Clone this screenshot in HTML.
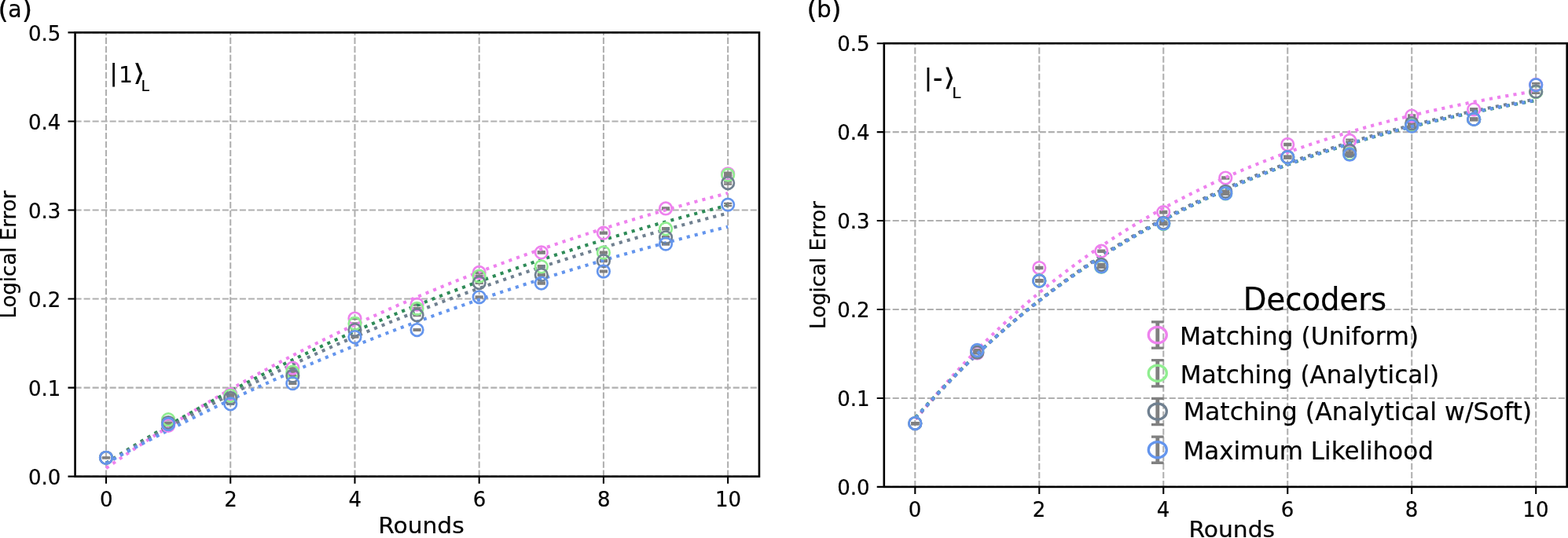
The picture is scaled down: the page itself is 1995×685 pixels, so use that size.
<!DOCTYPE html>
<html lang="en"><head><meta charset="utf-8"><title>Logical error vs rounds</title>
<style>html,body{margin:0;padding:0;background:#fff}body{width:1995px;height:685px;overflow:hidden}svg{display:block}text{font-family:'DejaVu Sans','Liberation Sans',sans-serif;fill:#000;stroke:#000;stroke-width:0.22px}</style>
</head><body>
<svg width="1995" height="685" viewBox="0 0 1995 685">
<rect width="1995" height="685" fill="#fff"/>
<g>
<g stroke="#b0b0b0" stroke-width="2.08" fill="none">
<path stroke-dasharray="8.09 2.925" stroke-dashoffset="0" d="M135 606.65V41.4M293.23 606.65V41.4M451.46 606.65V41.4M609.68 606.65V41.4M767.91 606.65V41.4M926.14 606.65V41.4"/>
<path stroke-dasharray="8.09 2.925" stroke-dashoffset="0" d="M95.57 606.65H965.95M95.57 493.6H965.95M95.57 380.55H965.95M95.57 267.5H965.95M95.57 154.45H965.95M95.57 41.4H965.95"/>
</g>
<g stroke="#808080" fill="none">
<path stroke-width="2.6" d="M135 582.65V582.95M214.11 541.36V542.16M293.23 501.69V502.69M372.34 467.9V469.1M451.46 404.93V406.13M530.57 386.87V388.47M609.68 346.07V347.87M688.8 320.32V322.52M767.91 295.77V297.57M847.03 264.37V266.57M926.14 219.71V222.81"/>
<path stroke-width="2.4" d="M129.9 582.65H140.1M129.9 582.95H140.1M209.01 541.36H219.21M209.01 542.16H219.21M288.13 501.69H298.33M288.13 502.69H298.33M367.24 467.9H377.44M367.24 469.1H377.44M446.36 404.93H456.56M446.36 406.13H456.56M525.47 386.87H535.67M525.47 388.47H535.67M604.58 346.07H614.78M604.58 347.87H614.78M683.7 320.32H693.9M683.7 322.52H693.9M762.81 295.77H773.01M762.81 297.57H773.01M841.93 264.37H852.13M841.93 266.57H852.13M921.04 219.71H931.24M921.04 222.81H931.24"/>
</g>
<path fill="none" stroke="#ee82ee" stroke-width="4.1" stroke-dasharray="4.1 6.223" d="M135 596.14L142.91 590.63L150.82 585.17L158.73 579.78L166.65 574.43L174.56 569.14L182.47 563.9L190.38 558.71L198.29 553.57L206.2 548.49L214.11 543.45L222.03 538.47L229.94 533.53L237.85 528.65L245.76 523.81L253.67 519.02L261.58 514.28L269.49 509.58L277.41 504.93L285.32 500.33L293.23 495.77L301.14 491.26L309.05 486.79L316.96 482.37L324.87 477.99L332.79 473.66L340.7 469.37L348.61 465.12L356.52 460.91L364.43 456.75L372.34 452.62L380.25 448.54L388.16 444.5L396.08 440.49L403.99 436.53L411.9 432.61L419.81 428.72L427.72 424.88L435.63 421.07L443.54 417.3L451.46 413.57L459.37 409.87L467.28 406.21L475.19 402.59L483.1 399.01L491.01 395.45L498.92 391.94L506.84 388.46L514.75 385.01L522.66 381.6L530.57 378.22L538.48 374.88L546.39 371.57L554.3 368.29L562.22 365.04L570.13 361.83L578.04 358.65L585.95 355.5L593.86 352.38L601.77 349.29L609.68 346.23L617.6 343.21L625.51 340.21L633.42 337.24L641.33 334.31L649.24 331.4L657.15 328.52L665.06 325.67L672.98 322.85L680.89 320.05L688.8 317.28L696.71 314.55L704.62 311.83L712.53 309.15L720.44 306.49L728.36 303.86L736.27 301.25L744.18 298.67L752.09 296.12L760 293.59L767.91 291.08L775.82 288.6L783.73 286.15L791.65 283.72L799.56 281.31L807.47 278.93L815.38 276.57L823.29 274.24L831.2 271.93L839.11 269.64L847.03 267.37L854.94 265.13L862.85 262.91L870.76 260.71L878.67 258.53L886.58 256.37L894.49 254.24L902.41 252.13L910.32 250.03L918.23 247.96L926.14 245.91"/>
<g stroke="#808080" fill="none">
<path stroke-width="2.6" d="M135 582.65V582.95M214.11 533.78V534.58M293.23 503.27V504.27M372.34 473.1V474.3M451.46 411.38V412.58M530.57 392.07V393.67M609.68 350.82V352.62M688.8 338.3V340.5M767.91 320.75V322.55M847.03 290.14V292.34M926.14 221.18V224.28"/>
<path stroke-width="2.4" d="M129.9 582.65H140.1M129.9 582.95H140.1M209.01 533.78H219.21M209.01 534.58H219.21M288.13 503.27H298.33M288.13 504.27H298.33M367.24 473.1H377.44M367.24 474.3H377.44M446.36 411.38H456.56M446.36 412.58H456.56M525.47 392.07H535.67M525.47 393.67H535.67M604.58 350.82H614.78M604.58 352.62H614.78M683.7 338.3H693.9M683.7 340.5H693.9M762.81 320.75H773.01M762.81 322.55H773.01M841.93 290.14H852.13M841.93 292.34H852.13M921.04 221.18H931.24M921.04 224.28H931.24"/>
</g>
<path fill="none" stroke="#2e8b57" stroke-width="4.1" stroke-dasharray="4.1 6.227" d="M135 589.58L142.91 584.6L150.82 579.66L158.73 574.77L166.65 569.92L174.56 565.11L182.47 560.35L190.38 555.64L198.29 550.96L206.2 546.33L214.11 541.74L222.03 537.19L229.94 532.69L237.85 528.22L245.76 523.79L253.67 519.41L261.58 515.06L269.49 510.76L277.41 506.49L285.32 502.26L293.23 498.08L301.14 493.92L309.05 489.81L316.96 485.73L324.87 481.7L332.79 477.69L340.7 473.73L348.61 469.8L356.52 465.9L364.43 462.04L372.34 458.22L380.25 454.43L388.16 450.68L396.08 446.96L403.99 443.27L411.9 439.62L419.81 436L427.72 432.41L435.63 428.86L443.54 425.34L451.46 421.85L459.37 418.39L467.28 414.96L475.19 411.56L483.1 408.2L491.01 404.87L498.92 401.56L506.84 398.29L514.75 395.04L522.66 391.83L530.57 388.64L538.48 385.49L546.39 382.36L554.3 379.26L562.22 376.19L570.13 373.15L578.04 370.13L585.95 367.14L593.86 364.18L601.77 361.25L609.68 358.34L617.6 355.46L625.51 352.6L633.42 349.78L641.33 346.97L649.24 344.19L657.15 341.44L665.06 338.71L672.98 336.01L680.89 333.33L688.8 330.68L696.71 328.05L704.62 325.45L712.53 322.86L720.44 320.3L728.36 317.77L736.27 315.26L744.18 312.77L752.09 310.3L760 307.86L767.91 305.43L775.82 303.03L783.73 300.66L791.65 298.3L799.56 295.96L807.47 293.65L815.38 291.36L823.29 289.09L831.2 286.83L839.11 284.6L847.03 282.39L854.94 280.2L862.85 278.03L870.76 275.88L878.67 273.75L886.58 271.64L894.49 269.54L902.41 267.47L910.32 265.42L918.23 263.38L926.14 261.36"/>
<g stroke="#808080" fill="none">
<path stroke-width="2.6" d="M135 582.65V582.95M214.11 537.63V538.43M293.23 506.44V507.44M372.34 477.96V479.16M451.46 419.4V420.6M530.57 400.44V402.04M609.68 359.07V360.87M688.8 348.81V351.01M767.91 331.26V333.06M847.03 301.22V303.42M926.14 231.47V234.57"/>
<path stroke-width="2.4" d="M129.9 582.65H140.1M129.9 582.95H140.1M209.01 537.63H219.21M209.01 538.43H219.21M288.13 506.44H298.33M288.13 507.44H298.33M367.24 477.96H377.44M367.24 479.16H377.44M446.36 419.4H456.56M446.36 420.6H456.56M525.47 400.44H535.67M525.47 402.04H535.67M604.58 359.07H614.78M604.58 360.87H614.78M683.7 348.81H693.9M683.7 351.01H693.9M762.81 331.26H773.01M762.81 333.06H773.01M841.93 301.22H852.13M841.93 303.42H852.13M921.04 231.47H931.24M921.04 234.57H931.24"/>
</g>
<path fill="none" stroke="#708090" stroke-width="4.1" stroke-dasharray="4.1 6.227" d="M135 589.92L142.91 585.17L150.82 580.47L158.73 575.81L166.65 571.18L174.56 566.6L182.47 562.06L190.38 557.55L198.29 553.09L206.2 548.66L214.11 544.27L222.03 539.92L229.94 535.61L237.85 531.33L245.76 527.09L253.67 522.89L261.58 518.73L269.49 514.6L277.41 510.5L285.32 506.45L293.23 502.42L301.14 498.43L309.05 494.48L316.96 490.56L324.87 486.67L332.79 482.82L340.7 479L348.61 475.22L356.52 471.46L364.43 467.74L372.34 464.06L380.25 460.4L388.16 456.77L396.08 453.18L403.99 449.62L411.9 446.09L419.81 442.59L427.72 439.12L435.63 435.67L443.54 432.26L451.46 428.88L459.37 425.53L467.28 422.21L475.19 418.91L483.1 415.65L491.01 412.41L498.92 409.2L506.84 406.02L514.75 402.86L522.66 399.74L530.57 396.64L538.48 393.56L546.39 390.52L554.3 387.5L562.22 384.5L570.13 381.53L578.04 378.59L585.95 375.67L593.86 372.78L601.77 369.92L609.68 367.07L617.6 364.26L625.51 361.46L633.42 358.69L641.33 355.95L649.24 353.23L657.15 350.53L665.06 347.86L672.98 345.2L680.89 342.58L688.8 339.97L696.71 337.39L704.62 334.83L712.53 332.29L720.44 329.77L728.36 327.28L736.27 324.8L744.18 322.35L752.09 319.92L760 317.51L767.91 315.12L775.82 312.76L783.73 310.41L791.65 308.08L799.56 305.77L807.47 303.49L815.38 301.22L823.29 298.97L831.2 296.74L839.11 294.53L847.03 292.34L854.94 290.17L862.85 288.02L870.76 285.89L878.67 283.77L886.58 281.68L894.49 279.6L902.41 277.54L910.32 275.49L918.23 273.47L926.14 271.46"/>
<g stroke="#808080" fill="none">
<path stroke-width="2.6" d="M135 582.65V582.95M214.11 539.55V540.35M293.23 513.79V514.79M372.34 487.57V488.77M451.46 428.45V429.65M530.57 419.2V420.8M609.68 377.39V379.19M688.8 359.44V361.64M767.91 344.6V346.4M847.03 309.47V311.67M926.14 259.05V262.15"/>
<path stroke-width="2.4" d="M129.9 582.65H140.1M129.9 582.95H140.1M209.01 539.55H219.21M209.01 540.35H219.21M288.13 513.79H298.33M288.13 514.79H298.33M367.24 487.57H377.44M367.24 488.77H377.44M446.36 428.45H456.56M446.36 429.65H456.56M525.47 419.2H535.67M525.47 420.8H535.67M604.58 377.39H614.78M604.58 379.19H614.78M683.7 359.44H693.9M683.7 361.64H693.9M762.81 344.6H773.01M762.81 346.4H773.01M841.93 309.47H852.13M841.93 311.67H852.13M921.04 259.05H931.24M921.04 262.15H931.24"/>
</g>
<path fill="none" stroke="#6495ed" stroke-width="4.1" stroke-dasharray="4.1 6.224" d="M135 589.92L142.91 585.57L150.82 581.25L158.73 576.96L166.65 572.71L174.56 568.49L182.47 564.31L190.38 560.16L198.29 556.04L206.2 551.96L214.11 547.91L222.03 543.89L229.94 539.9L237.85 535.94L245.76 532.02L253.67 528.12L261.58 524.26L269.49 520.43L277.41 516.63L285.32 512.86L293.23 509.11L301.14 505.4L309.05 501.72L316.96 498.07L324.87 494.44L332.79 490.85L340.7 487.28L348.61 483.74L356.52 480.23L364.43 476.75L372.34 473.29L380.25 469.86L388.16 466.46L396.08 463.09L403.99 459.74L411.9 456.42L419.81 453.13L427.72 449.86L435.63 446.62L443.54 443.4L451.46 440.21L459.37 437.05L467.28 433.91L475.19 430.79L483.1 427.7L491.01 424.64L498.92 421.59L506.84 418.58L514.75 415.58L522.66 412.61L530.57 409.67L538.48 406.75L546.39 403.85L554.3 400.97L562.22 398.12L570.13 395.28L578.04 392.48L585.95 389.69L593.86 386.93L601.77 384.18L609.68 381.46L617.6 378.76L625.51 376.09L633.42 373.43L641.33 370.79L649.24 368.18L657.15 365.59L665.06 363.01L672.98 360.46L680.89 357.93L688.8 355.42L696.71 352.92L704.62 350.45L712.53 348L720.44 345.57L728.36 343.15L736.27 340.76L744.18 338.38L752.09 336.02L760 333.69L767.91 331.37L775.82 329.07L783.73 326.78L791.65 324.52L799.56 322.27L807.47 320.04L815.38 317.83L823.29 315.64L831.2 313.46L839.11 311.3L847.03 309.16L854.94 307.03L862.85 304.92L870.76 302.83L878.67 300.76L886.58 298.7L894.49 296.66L902.41 294.63L910.32 292.62L918.23 290.63L926.14 288.65"/>
<g stroke="#ee82ee" stroke-width="2.65" fill="none">
<circle cx="135" cy="582.8" r="7.8"/>
<circle cx="214.11" cy="541.76" r="7.8"/>
<circle cx="293.23" cy="502.19" r="7.8"/>
<circle cx="372.34" cy="468.5" r="7.8"/>
<circle cx="451.46" cy="405.53" r="7.8"/>
<circle cx="530.57" cy="387.67" r="7.8"/>
<circle cx="609.68" cy="346.97" r="7.8"/>
<circle cx="688.8" cy="321.42" r="7.8"/>
<circle cx="767.91" cy="296.67" r="7.8"/>
<circle cx="847.03" cy="265.47" r="7.8"/>
<circle cx="926.14" cy="221.26" r="7.8"/>
</g>
<g stroke="#90ee90" stroke-width="2.65" fill="none">
<circle cx="135" cy="582.8" r="7.8"/>
<circle cx="214.11" cy="534.18" r="7.8"/>
<circle cx="293.23" cy="503.77" r="7.8"/>
<circle cx="372.34" cy="473.7" r="7.8"/>
<circle cx="451.46" cy="411.98" r="7.8"/>
<circle cx="530.57" cy="392.87" r="7.8"/>
<circle cx="609.68" cy="351.72" r="7.8"/>
<circle cx="688.8" cy="339.4" r="7.8"/>
<circle cx="767.91" cy="321.65" r="7.8"/>
<circle cx="847.03" cy="291.24" r="7.8"/>
<circle cx="926.14" cy="222.73" r="7.8"/>
</g>
<g stroke="#708090" stroke-width="2.65" fill="none">
<circle cx="135" cy="582.8" r="7.8"/>
<circle cx="214.11" cy="538.03" r="7.8"/>
<circle cx="293.23" cy="506.94" r="7.8"/>
<circle cx="372.34" cy="478.56" r="7.8"/>
<circle cx="451.46" cy="420" r="7.8"/>
<circle cx="530.57" cy="401.24" r="7.8"/>
<circle cx="609.68" cy="359.97" r="7.8"/>
<circle cx="688.8" cy="349.91" r="7.8"/>
<circle cx="767.91" cy="332.16" r="7.8"/>
<circle cx="847.03" cy="302.32" r="7.8"/>
<circle cx="926.14" cy="233.02" r="7.8"/>
</g>
<g stroke="#6495ed" stroke-width="2.65" fill="none">
<circle cx="135" cy="582.8" r="7.8"/>
<circle cx="214.11" cy="539.95" r="7.8"/>
<circle cx="293.23" cy="514.29" r="7.8"/>
<circle cx="372.34" cy="488.17" r="7.8"/>
<circle cx="451.46" cy="429.05" r="7.8"/>
<circle cx="530.57" cy="420" r="7.8"/>
<circle cx="609.68" cy="378.29" r="7.8"/>
<circle cx="688.8" cy="360.54" r="7.8"/>
<circle cx="767.91" cy="345.5" r="7.8"/>
<circle cx="847.03" cy="310.57" r="7.8"/>
<circle cx="926.14" cy="260.6" r="7.8"/>
</g>
<rect x="95.57" y="41.4" width="870.38" height="565.25" fill="none" stroke="#000" stroke-width="2.6"/>
<path d="M135 606.65v9.09M293.23 606.65v9.09M451.46 606.65v9.09M609.68 606.65v9.09M767.91 606.65v9.09M926.14 606.65v9.09M95.57 606.65h-9.09M95.57 493.6h-9.09M95.57 380.55h-9.09M95.57 267.5h-9.09M95.57 154.45h-9.09M95.57 41.4h-9.09" stroke="#000" stroke-width="2.08" fill="none"/>
<g font-size="26" text-anchor="middle">
<text x="135.35" y="644.65">0</text>
<text x="293.58" y="644.65">2</text>
<text x="451.81" y="644.65">4</text>
<text x="610.03" y="644.65">6</text>
<text x="768.26" y="644.65">8</text>
<text x="926.49" y="644.65">10</text>
</g>
<g font-size="26" text-anchor="end">
<text x="77.37" y="617.3">0.0</text>
<text x="77.37" y="504.25">0.1</text>
<text x="77.37" y="391.2">0.2</text>
<text x="77.37" y="278.15">0.3</text>
<text x="77.37" y="165.1">0.4</text>
<text x="77.37" y="52.05">0.5</text>
</g>
</g>
<g>
<g stroke="#b0b0b0" stroke-width="2.08" fill="none">
<path stroke-dasharray="8.09 2.937" stroke-dashoffset="0.1" d="M1164.3 619.9V55.2M1322.28 619.9V55.2M1480.26 619.9V55.2M1638.24 619.9V55.2M1796.22 619.9V55.2M1954.2 619.9V55.2"/>
<path stroke-dasharray="8.09 2.911" stroke-dashoffset="0.1" d="M1124.8 619.9H1993.7M1124.8 506.96H1993.7M1124.8 394.02H1993.7M1124.8 281.08H1993.7M1124.8 168.14H1993.7M1124.8 55.2H1993.7"/>
</g>
<g stroke="#808080" fill="none">
<path stroke-width="2.6" d="M1164.3 538.13V539.93M1243.29 448.57V450.37M1322.28 340.05V342.05M1401.27 318.71V320.71M1480.26 269.02V271.22M1559.25 225.43V227.63M1638.24 182.85V185.05M1717.23 177.58V180.38M1796.22 146.38V148.78M1875.21 138.24V140.44M1954.2 105.93V109.73"/>
<path stroke-width="2.4" d="M1159.2 538.13H1169.4M1159.2 539.93H1169.4M1238.19 448.57H1248.39M1238.19 450.37H1248.39M1317.18 340.05H1327.38M1317.18 342.05H1327.38M1396.17 318.71H1406.37M1396.17 320.71H1406.37M1475.16 269.02H1485.36M1475.16 271.22H1485.36M1554.15 225.43H1564.35M1554.15 227.63H1564.35M1633.14 182.85H1643.34M1633.14 185.05H1643.34M1712.13 177.58H1722.33M1712.13 180.38H1722.33M1791.12 146.38H1801.32M1791.12 148.78H1801.32M1870.11 138.24H1880.31M1870.11 140.44H1880.31M1949.1 105.93H1959.3M1949.1 109.73H1959.3"/>
</g>
<path fill="none" stroke="#ee82ee" stroke-width="4.1" stroke-dasharray="4.1 6.217" d="M1165.1 533.93L1172.99 524.16L1180.88 514.58L1188.77 505.2L1196.66 496.02L1204.55 487.02L1212.45 478.2L1220.34 469.56L1228.23 461.1L1236.12 452.82L1244.01 444.7L1251.9 436.74L1259.79 428.95L1267.68 421.32L1275.57 413.84L1283.46 406.52L1291.36 399.35L1299.25 392.32L1307.14 385.43L1315.03 378.69L1322.92 372.08L1330.81 365.61L1338.7 359.27L1346.59 353.06L1354.48 346.98L1362.38 341.02L1370.27 335.18L1378.16 329.46L1386.05 323.86L1393.94 318.37L1401.83 313L1409.72 307.73L1417.61 302.57L1425.5 297.52L1433.39 292.57L1441.28 287.72L1449.18 282.97L1457.07 278.31L1464.96 273.75L1472.85 269.29L1480.74 264.91L1488.63 260.63L1496.52 256.43L1504.41 252.32L1512.3 248.29L1520.19 244.34L1528.09 240.48L1535.98 236.69L1543.87 232.98L1551.76 229.35L1559.65 225.79L1567.54 222.3L1575.43 218.88L1583.32 215.54L1591.21 212.26L1599.11 209.05L1607 205.9L1614.89 202.82L1622.78 199.8L1630.67 196.85L1638.56 193.95L1646.45 191.11L1654.34 188.33L1662.23 185.61L1670.12 182.94L1678.02 180.33L1685.91 177.77L1693.8 175.26L1701.69 172.8L1709.58 170.4L1717.47 168.04L1725.36 165.73L1733.25 163.47L1741.14 161.25L1749.03 159.08L1756.92 156.96L1764.82 154.87L1772.71 152.83L1780.6 150.83L1788.49 148.88L1796.38 146.96L1804.27 145.08L1812.16 143.24L1820.05 141.43L1827.94 139.67L1835.83 137.94L1843.73 136.24L1851.62 134.58L1859.51 132.96L1867.4 131.36L1875.29 129.8L1883.18 128.27L1891.07 126.77L1898.96 125.31L1906.85 123.87L1914.75 122.46L1922.64 121.08L1930.53 119.73L1938.42 118.41L1946.31 117.11L1954.2 115.84"/>
<g stroke="#808080" fill="none">
<path stroke-width="2.6" d="M1164.3 538.13V539.93M1243.29 447.33V449.13M1322.28 356.2V358.2M1401.27 338.92V340.92M1480.26 283.93V286.13M1559.25 245.31V247.51M1638.24 199.23V201.43M1717.23 194.18V196.98M1796.22 158.13V160.53M1875.21 150.78V152.98M1954.2 115.08V118.88"/>
<path stroke-width="2.4" d="M1159.2 538.13H1169.4M1159.2 539.93H1169.4M1238.19 447.33H1248.39M1238.19 449.13H1248.39M1317.18 356.2H1327.38M1317.18 358.2H1327.38M1396.17 338.92H1406.37M1396.17 340.92H1406.37M1475.16 283.93H1485.36M1475.16 286.13H1485.36M1554.15 245.31H1564.35M1554.15 247.51H1564.35M1633.14 199.23H1643.34M1633.14 201.43H1643.34M1712.13 194.18H1722.33M1712.13 196.98H1722.33M1791.12 158.13H1801.32M1791.12 160.53H1801.32M1870.11 150.78H1880.31M1870.11 152.98H1880.31M1949.1 115.08H1959.3M1949.1 118.88H1959.3"/>
</g>
<path fill="none" stroke="#2e8b57" stroke-width="4.1" stroke-dasharray="4.1 6.222" d="M1165.1 531.34L1172.99 522.5L1180.88 513.82L1188.77 505.3L1196.66 496.94L1204.55 488.73L1212.45 480.68L1220.34 472.78L1228.23 465.02L1236.12 457.41L1244.01 449.93L1251.9 442.6L1259.79 435.4L1267.68 428.34L1275.57 421.41L1283.46 414.6L1291.36 407.93L1299.25 401.37L1307.14 394.94L1315.03 388.63L1322.92 382.43L1330.81 376.35L1338.7 370.38L1346.59 364.53L1354.48 358.78L1362.38 353.14L1370.27 347.6L1378.16 342.17L1386.05 336.84L1393.94 331.6L1401.83 326.46L1409.72 321.42L1417.61 316.47L1425.5 311.62L1433.39 306.85L1441.28 302.18L1449.18 297.58L1457.07 293.08L1464.96 288.66L1472.85 284.32L1480.74 280.06L1488.63 275.88L1496.52 271.78L1504.41 267.75L1512.3 263.8L1520.19 259.92L1528.09 256.11L1535.98 252.38L1543.87 248.71L1551.76 245.11L1559.65 241.58L1567.54 238.11L1575.43 234.71L1583.32 231.37L1591.21 228.1L1599.11 224.88L1607 221.73L1614.89 218.63L1622.78 215.59L1630.67 212.61L1638.56 209.68L1646.45 206.8L1654.34 203.98L1662.23 201.22L1670.12 198.5L1678.02 195.83L1685.91 193.22L1693.8 190.65L1701.69 188.13L1709.58 185.65L1717.47 183.22L1725.36 180.84L1733.25 178.5L1741.14 176.21L1749.03 173.96L1756.92 171.74L1764.82 169.58L1772.71 167.45L1780.6 165.36L1788.49 163.3L1796.38 161.29L1804.27 159.32L1812.16 157.38L1820.05 155.47L1827.94 153.61L1835.83 151.77L1843.73 149.97L1851.62 148.21L1859.51 146.48L1867.4 144.77L1875.29 143.11L1883.18 141.47L1891.07 139.86L1898.96 138.28L1906.85 136.73L1914.75 135.21L1922.64 133.72L1930.53 132.26L1938.42 130.82L1946.31 129.41L1954.2 128.03"/>
<g stroke="#808080" fill="none">
<path stroke-width="2.6" d="M1164.3 538.13V539.93M1243.29 447.78V449.58M1322.28 356.65V358.65M1401.27 335.99V337.99M1480.26 282.69V284.89M1559.25 242.71V244.91M1638.24 198.78V200.98M1717.23 190.57V193.37M1796.22 155.87V158.27M1875.21 150.78V152.98M1954.2 114.74V118.54"/>
<path stroke-width="2.4" d="M1159.2 538.13H1169.4M1159.2 539.93H1169.4M1238.19 447.78H1248.39M1238.19 449.58H1248.39M1317.18 356.65H1327.38M1317.18 358.65H1327.38M1396.17 335.99H1406.37M1396.17 337.99H1406.37M1475.16 282.69H1485.36M1475.16 284.89H1485.36M1554.15 242.71H1564.35M1554.15 244.91H1564.35M1633.14 198.78H1643.34M1633.14 200.98H1643.34M1712.13 190.57H1722.33M1712.13 193.37H1722.33M1791.12 155.87H1801.32M1791.12 158.27H1801.32M1870.11 150.78H1880.31M1870.11 152.98H1880.31M1949.1 114.74H1959.3M1949.1 118.54H1959.3"/>
</g>
<path fill="none" stroke="#708090" stroke-width="4.1" stroke-dasharray="4.1 6.203" d="M1165.1 532.93L1172.99 523.93L1180.88 515.1L1188.77 506.44L1196.66 497.94L1204.55 489.6L1212.45 481.41L1220.34 473.38L1228.23 465.51L1236.12 457.78L1244.01 450.19L1251.9 442.75L1259.79 435.45L1267.68 428.29L1275.57 421.26L1283.46 414.36L1291.36 407.6L1299.25 400.96L1307.14 394.44L1315.03 388.05L1322.92 381.78L1330.81 375.63L1338.7 369.59L1346.59 363.66L1354.48 357.85L1362.38 352.15L1370.27 346.55L1378.16 341.06L1386.05 335.68L1393.94 330.39L1401.83 325.2L1409.72 320.12L1417.61 315.12L1425.5 310.22L1433.39 305.42L1441.28 300.7L1449.18 296.07L1457.07 291.53L1464.96 287.08L1472.85 282.71L1480.74 278.42L1488.63 274.21L1496.52 270.08L1504.41 266.03L1512.3 262.06L1520.19 258.16L1528.09 254.33L1535.98 250.58L1543.87 246.89L1551.76 243.28L1559.65 239.73L1567.54 236.25L1575.43 232.84L1583.32 229.49L1591.21 226.2L1599.11 222.97L1607 219.81L1614.89 216.7L1622.78 213.66L1630.67 210.67L1638.56 207.74L1646.45 204.86L1654.34 202.04L1662.23 199.27L1670.12 196.55L1678.02 193.88L1685.91 191.26L1693.8 188.7L1701.69 186.18L1709.58 183.7L1717.47 181.28L1725.36 178.9L1733.25 176.56L1741.14 174.27L1749.03 172.03L1756.92 169.82L1764.82 167.66L1772.71 165.53L1780.6 163.45L1788.49 161.41L1796.38 159.4L1804.27 157.43L1812.16 155.5L1820.05 153.61L1827.94 151.75L1835.83 149.93L1843.73 148.14L1851.62 146.38L1859.51 144.66L1867.4 142.97L1875.29 141.31L1883.18 139.68L1891.07 138.08L1898.96 136.52L1906.85 134.98L1914.75 133.47L1922.64 131.99L1930.53 130.54L1938.42 129.12L1946.31 127.72L1954.2 126.35"/>
<g stroke="#808080" fill="none">
<path stroke-width="2.6" d="M1164.3 538.13V539.93M1243.29 445.07V446.87M1322.28 356.65V358.65M1401.27 338.47V340.47M1480.26 283.59V285.79M1559.25 245.08V247.28M1638.24 199V201.2M1717.23 195.31V198.11M1796.22 159.37V161.77M1875.21 150.78V152.98M1954.2 106.27V110.07"/>
<path stroke-width="2.4" d="M1159.2 538.13H1169.4M1159.2 539.93H1169.4M1238.19 445.07H1248.39M1238.19 446.87H1248.39M1317.18 356.65H1327.38M1317.18 358.65H1327.38M1396.17 338.47H1406.37M1396.17 340.47H1406.37M1475.16 283.59H1485.36M1475.16 285.79H1485.36M1554.15 245.08H1564.35M1554.15 247.28H1564.35M1633.14 199H1643.34M1633.14 201.2H1643.34M1712.13 195.31H1722.33M1712.13 198.11H1722.33M1791.12 159.37H1801.32M1791.12 161.77H1801.32M1870.11 150.78H1880.31M1870.11 152.98H1880.31M1949.1 106.27H1959.3M1949.1 110.07H1959.3"/>
</g>
<path fill="none" stroke="#6495ed" stroke-width="4.1" stroke-dasharray="4.1 6.218" d="M1165.1 532L1172.99 523.11L1180.88 514.39L1188.77 505.84L1196.66 497.44L1204.55 489.2L1212.45 481.11L1220.34 473.17L1228.23 465.38L1236.12 457.74L1244.01 450.23L1251.9 442.87L1259.79 435.65L1267.68 428.55L1275.57 421.6L1283.46 414.77L1291.36 408.06L1299.25 401.49L1307.14 395.03L1315.03 388.7L1322.92 382.48L1330.81 376.38L1338.7 370.39L1346.59 364.52L1354.48 358.75L1362.38 353.09L1370.27 347.54L1378.16 342.09L1386.05 336.74L1393.94 331.49L1401.83 326.34L1409.72 321.28L1417.61 316.32L1425.5 311.45L1433.39 306.67L1441.28 301.98L1449.18 297.38L1457.07 292.86L1464.96 288.43L1472.85 284.08L1480.74 279.81L1488.63 275.62L1496.52 271.51L1504.41 267.48L1512.3 263.52L1520.19 259.63L1528.09 255.82L1535.98 252.08L1543.87 248.41L1551.76 244.8L1559.65 241.26L1567.54 237.79L1575.43 234.39L1583.32 231.04L1591.21 227.76L1599.11 224.54L1607 221.38L1614.89 218.28L1622.78 215.24L1630.67 212.25L1638.56 209.32L1646.45 206.44L1654.34 203.62L1662.23 200.85L1670.12 198.13L1678.02 195.46L1685.91 192.84L1693.8 190.27L1701.69 187.75L1709.58 185.28L1717.47 182.85L1725.36 180.47L1733.25 178.13L1741.14 175.83L1749.03 173.58L1756.92 171.37L1764.82 169.2L1772.71 167.07L1780.6 164.98L1788.49 162.93L1796.38 160.92L1804.27 158.94L1812.16 157L1820.05 155.1L1827.94 153.23L1835.83 151.4L1843.73 149.6L1851.62 147.84L1859.51 146.11L1867.4 144.41L1875.29 142.74L1883.18 141.1L1891.07 139.5L1898.96 137.92L1906.85 136.37L1914.75 134.86L1922.64 133.37L1930.53 131.9L1938.42 130.47L1946.31 129.06L1954.2 127.68"/>
<g stroke="#ee82ee" stroke-width="2.65" fill="none">
<circle cx="1164.3" cy="539.03" r="7.8"/>
<circle cx="1243.29" cy="449.47" r="7.8"/>
<circle cx="1322.28" cy="341.05" r="7.8"/>
<circle cx="1401.27" cy="319.71" r="7.8"/>
<circle cx="1480.26" cy="270.12" r="7.8"/>
<circle cx="1559.25" cy="226.53" r="7.8"/>
<circle cx="1638.24" cy="183.95" r="7.8"/>
<circle cx="1717.23" cy="178.98" r="7.8"/>
<circle cx="1796.22" cy="147.58" r="7.8"/>
<circle cx="1875.21" cy="139.34" r="7.8"/>
<circle cx="1954.2" cy="107.83" r="7.8"/>
</g>
<g stroke="#90ee90" stroke-width="2.65" fill="none">
<circle cx="1164.3" cy="539.03" r="7.8"/>
<circle cx="1243.29" cy="448.23" r="7.8"/>
<circle cx="1322.28" cy="357.2" r="7.8"/>
<circle cx="1401.27" cy="339.92" r="7.8"/>
<circle cx="1480.26" cy="285.03" r="7.8"/>
<circle cx="1559.25" cy="246.41" r="7.8"/>
<circle cx="1638.24" cy="200.33" r="7.8"/>
<circle cx="1717.23" cy="195.58" r="7.8"/>
<circle cx="1796.22" cy="159.33" r="7.8"/>
<circle cx="1875.21" cy="151.88" r="7.8"/>
<circle cx="1954.2" cy="116.98" r="7.8"/>
</g>
<g stroke="#708090" stroke-width="2.65" fill="none">
<circle cx="1164.3" cy="539.03" r="7.8"/>
<circle cx="1243.29" cy="448.68" r="7.8"/>
<circle cx="1322.28" cy="357.65" r="7.8"/>
<circle cx="1401.27" cy="336.99" r="7.8"/>
<circle cx="1480.26" cy="283.79" r="7.8"/>
<circle cx="1559.25" cy="243.81" r="7.8"/>
<circle cx="1638.24" cy="199.88" r="7.8"/>
<circle cx="1717.23" cy="191.97" r="7.8"/>
<circle cx="1796.22" cy="157.07" r="7.8"/>
<circle cx="1875.21" cy="151.88" r="7.8"/>
<circle cx="1954.2" cy="116.64" r="7.8"/>
</g>
<g stroke="#6495ed" stroke-width="2.65" fill="none">
<circle cx="1164.3" cy="539.03" r="7.8"/>
<circle cx="1243.29" cy="445.97" r="7.8"/>
<circle cx="1322.28" cy="357.65" r="7.8"/>
<circle cx="1401.27" cy="339.47" r="7.8"/>
<circle cx="1480.26" cy="284.69" r="7.8"/>
<circle cx="1559.25" cy="246.18" r="7.8"/>
<circle cx="1638.24" cy="200.1" r="7.8"/>
<circle cx="1717.23" cy="196.71" r="7.8"/>
<circle cx="1796.22" cy="160.57" r="7.8"/>
<circle cx="1875.21" cy="151.88" r="7.8"/>
<circle cx="1954.2" cy="108.17" r="7.8"/>
</g>
<rect x="1124.8" y="55.2" width="868.9" height="564.7" fill="none" stroke="#000" stroke-width="2.6"/>
<path d="M1164.3 619.9v9.09M1322.28 619.9v9.09M1480.26 619.9v9.09M1638.24 619.9v9.09M1796.22 619.9v9.09M1954.2 619.9v9.09M1124.8 619.9h-9.09M1124.8 506.96h-9.09M1124.8 394.02h-9.09M1124.8 281.08h-9.09M1124.8 168.14h-9.09M1124.8 55.2h-9.09" stroke="#000" stroke-width="2.08" fill="none"/>
<g font-size="26" text-anchor="middle">
<text x="1164" y="657.9">0</text>
<text x="1321.98" y="657.9">2</text>
<text x="1479.96" y="657.9">4</text>
<text x="1637.94" y="657.9">6</text>
<text x="1795.92" y="657.9">8</text>
<text x="1953.9" y="657.9">10</text>
</g>
<g font-size="26" text-anchor="end">
<text x="1106.6" y="629.85">0.0</text>
<text x="1106.6" y="516.91">0.1</text>
<text x="1106.6" y="403.97">0.2</text>
<text x="1106.6" y="291.03">0.3</text>
<text x="1106.6" y="178.09">0.4</text>
<text x="1106.6" y="65.15">0.5</text>
</g>
</g>
<text transform="translate(481.18 679.15) scale(1.0324 1)" font-size="28.8">Rounds</text>
<text transform="translate(1512.48 683.75) scale(1.0324 1)" font-size="28.8">Rounds</text>
<text transform="translate(19.8 324.2) rotate(-90)" font-size="26" text-anchor="middle">Logical Error</text>
<text transform="translate(1050.1 337.5) rotate(-90)" font-size="26" text-anchor="middle">Logical Error</text>
<text><tspan x="-2.41" y="23.82" font-size="33.71" textLength="13.347" lengthAdjust="spacingAndGlyphs">(</tspan><tspan x="10.3" y="21.9" font-size="30" textLength="17.401" lengthAdjust="spacingAndGlyphs">a</tspan><tspan x="27.66" y="23.82" font-size="33.71" textLength="13.347" lengthAdjust="spacingAndGlyphs">)</tspan></text>
<text><tspan x="1026.49" y="23.82" font-size="33.71" textLength="13.347" lengthAdjust="spacingAndGlyphs">(</tspan><tspan x="1039.36" y="21.9" font-size="30" textLength="18.441" lengthAdjust="spacingAndGlyphs">b</tspan><tspan x="1057.26" y="23.82" font-size="33.71" textLength="13.347" lengthAdjust="spacingAndGlyphs">)</tspan></text>
<text><tspan x="139.33" y="102.54" font-size="29.4" textLength="10.705" lengthAdjust="spacingAndGlyphs">|</tspan><tspan x="151.17" y="105" font-size="29.18" textLength="17.545" lengthAdjust="spacingAndGlyphs">1</tspan><tspan x="169.17" y="103.13" font-size="30.17" textLength="15.245" lengthAdjust="spacingAndGlyphs">⟩</tspan><tspan x="179.5" y="115.7" font-size="19.59" textLength="10.535" lengthAdjust="spacingAndGlyphs">L</tspan></text>
<text><tspan x="1175.92" y="108.74" font-size="29.4" textLength="9.912" lengthAdjust="spacingAndGlyphs">|</tspan><tspan x="1187.06" y="112.01" font-size="37.5" textLength="12.533" lengthAdjust="spacingAndGlyphs">-</tspan><tspan x="1200.41" y="109.38" font-size="30.5" textLength="15.068" lengthAdjust="spacingAndGlyphs">⟩</tspan><tspan x="1211.2" y="125" font-size="19.32" textLength="11.140" lengthAdjust="spacingAndGlyphs">L</tspan></text>
<text transform="translate(1581.84 394.7) scale(0.9405 1)" font-size="41">Decoders</text>
<path d="M1472.8 409.9V443.1" stroke="#808080" stroke-width="4.9" fill="none"/>
<path d="M1464.95 409.9h15.7M1464.95 443.1h15.7" stroke="#808080" stroke-width="3.3" fill="none"/>
<ellipse cx="1472.8" cy="426.5" rx="11.55" ry="10.1" fill="none" stroke="#ee82ee" stroke-width="3.3"/>
<text transform="translate(1501.01 438.5) scale(0.9678 1)" font-size="32.5">Matching (Uniform)</text>
<path d="M1472.8 458.62V491.82" stroke="#808080" stroke-width="4.9" fill="none"/>
<path d="M1464.95 458.62h15.7M1464.95 491.82h15.7" stroke="#808080" stroke-width="3.3" fill="none"/>
<ellipse cx="1472.8" cy="475.22" rx="11.55" ry="10.1" fill="none" stroke="#90ee90" stroke-width="3.3"/>
<text transform="translate(1501.85 488) scale(0.9557 1)" font-size="32.5">Matching (Analytical)</text>
<path d="M1472.8 507.34V540.54" stroke="#808080" stroke-width="4.9" fill="none"/>
<path d="M1464.95 507.34h15.7M1464.95 540.54h15.7" stroke="#808080" stroke-width="3.3" fill="none"/>
<ellipse cx="1472.8" cy="523.94" rx="11.55" ry="10.1" fill="none" stroke="#708090" stroke-width="3.3"/>
<text transform="translate(1505.8 535.2) scale(0.9712 1)" font-size="32.5">Matching (Analytical w/Soft)</text>
<path d="M1472.8 556.06V589.26" stroke="#808080" stroke-width="4.9" fill="none"/>
<path d="M1464.95 556.06h15.7M1464.95 589.26h15.7" stroke="#808080" stroke-width="3.3" fill="none"/>
<ellipse cx="1472.8" cy="572.66" rx="11.55" ry="10.1" fill="none" stroke="#6495ed" stroke-width="3.3"/>
<text transform="translate(1505.56 584.7) scale(0.9523 1)" font-size="32.5">Maximum Likelihood</text>
</svg>
</body></html>
